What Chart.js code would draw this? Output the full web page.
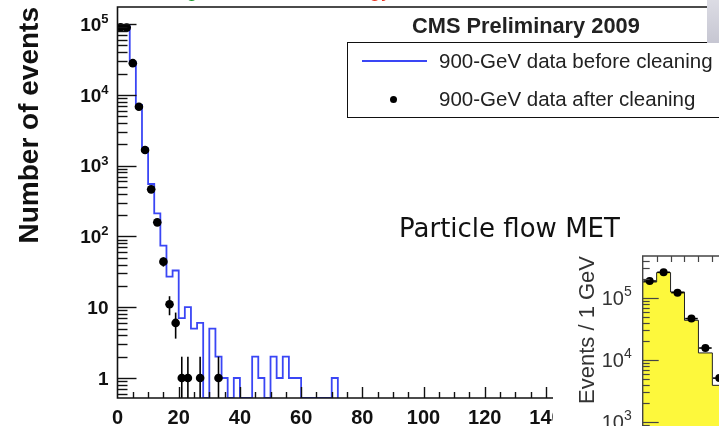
<!DOCTYPE html>
<html>
<head>
<meta charset="utf-8">
<script src="https://cdn.jsdelivr.net/npm/chart.js@4.4.0/dist/chart.umd.min.js"></script>
<style>
  html, body { margin: 0; padding: 0; width: 719px; height: 426px; overflow: hidden; background: #fff; }
  .abs { position: absolute; white-space: nowrap; }
  #main { position: absolute; left: 0; top: 0; }
  #insetWrap { position: absolute; left: 553px; top: 245px; width: 200px; height: 230px; background: #fff; }
  .txt { font-family: "Liberation Sans", Arial, Helvetica, sans-serif; line-height: 1; color: #222; }
  #cmsLabel { left: 412px; top: 15px; font-size: 21.8px; font-weight: bold; }
  #legendBox { left: 347px; top: 42px; width: 420px; height: 76px; border: 1.5px solid #111; box-sizing: border-box; }
  #legLine { left: 362px; top: 60px; width: 65px; height: 2px; background: #3a46f5; }
  #legDot { left: 389.5px; top: 95.5px; width: 7px; height: 7px; border-radius: 50%; background: #000; }
  #legText1 { left: 439px; top: 51px; font-size: 20.5px; }
  #legText2 { left: 439px; top: 89.3px; font-size: 20.5px; }
  #pfMet { left: 399px; top: 215px; font-family: "Comic Sans MS", "DejaVu Sans", sans-serif; font-size: 26px; line-height: 1; color: #111; }
  #grayTab { left: 707px; top: 0; width: 12px; height: 43px; background: linear-gradient(#dcdce4, #c6c6d2); }
  #topGreen { left: 186px; top: -22px; font-size: 22px; color: #1a9a2a; }
  #topRed { left: 369px; top: -22px; font-size: 22px; color: #e8321e; }
</style>
</head>
<body>
<canvas id="main" width="719" height="426"></canvas>
<div id="insetWrap"><canvas id="inset" width="200" height="230"></canvas></div>

<div class="abs txt" id="topGreen">g</div>
<div class="abs txt" id="topRed">gy</div>
<div class="abs txt" id="cmsLabel">CMS Preliminary 2009</div>
<div class="abs" id="legendBox"></div>
<div class="abs" id="legLine"></div>
<div class="abs" id="legDot"></div>
<div class="abs txt" id="legText1">900-GeV data before cleaning</div>
<div class="abs txt" id="legText2">900-GeV data after cleaning</div>
<div class="abs" id="pfMet">Particle flow MET</div>
<div class="abs" id="grayTab"></div>

<script>
// main plot: MET distribution, 2 GeV bins
const beforeBinLow = [0, 2, 4, 6, 8, 10, 12, 14, 16, 18, 20, 22, 24, 26, 28, 30, 32, 34,
  36, 38, 40, 42, 44, 46, 48, 50, 52, 54, 56, 58, 60, 62, 64, 66, 68, 70];
const beforeLastEdge = 72;
const beforeCounts = [95000, 93000, 29000, 7200, 1750, 550, 212, 74, 27, 33, 7, 10, 5, 6, 0, 5, 2, 1,
  0, 1, 0, 0, 2, 1, 0, 2, 1, 2, 1, 1, 0, 0, 0, 0, 0, 1];

const afterX = [1, 3, 5, 7, 9, 11, 13, 15, 17, 19, 21, 23, 27, 33];
const afterCounts = [90000, 89000, 28000, 6800, 1660, 462, 158, 44, 11, 6, 1, 1, 1, 1];
const afterErr = [300, 298, 167, 82, 41, 21.5, 12.6, 6.6, 3.3, 2.4, 1, 1, 1, 1];

const xTickValues = [0, 20, 40, 60, 80, 100, 120, 140];
const yTickValues = [1, 10, 100, 1000, 10000, 100000];
const yTickBase = ["1", "10", "10", "10", "10", "10"];
const yTickExp = ["", "", "2", "3", "4", "5"];

// inset: particle flow MET, 1 GeV bins
const insetBinLow = [0, 1, 2, 3, 4, 5];
const insetLastEdge = 6;
const insetCounts = [181000, 257000, 125000, 43700, 13000, 3900];
const insetX = [0.5, 1.5, 2.5, 3.5, 4.5, 5.5];
const insetPoints = [188000, 260000, 122000, 46500, 15600, 5100];
const insetTickValues = [1000, 10000, 100000];
const insetTickBase = ["10", "10", "10"];
const insetTickExp = ["3", "4", "5"];

const FONT = '"Liberation Sans", Arial, Helvetica, sans-serif';
const Y_MIN = 0.522;
const Y_MAX = 174000;
const INSET_MIN = 200;
const INSET_MAX = 476000;

function stepPoints(lows, lastEdge, counts, floor) {
  const pts = lows.map((x, i) => ({ x: x, y: counts[i] > 0 ? counts[i] : floor }));
  pts.push({ x: lastEdge, y: floor });
  return pts;
}

function drawLogTicks(ctx, scale, x0, majorLen, minorLen) {
  const lo = Math.floor(Math.log10(scale.min));
  const hi = Math.ceil(Math.log10(scale.max));
  for (let d = lo; d <= hi; d++) {
    for (let k = 1; k <= 9; k++) {
      const v = k * Math.pow(10, d);
      if (v <= scale.min || v >= scale.max) continue;
      const py = Math.round(scale.getPixelForValue(v)) + 0.5;
      ctx.beginPath();
      ctx.moveTo(x0, py);
      ctx.lineTo(x0 + (k === 1 ? majorLen : minorLen), py);
      ctx.stroke();
    }
  }
}

// ROOT style "10^n" labels, exponent raised
function drawPowerLabels(ctx, scale, values, bases, exps, xRight, sty) {
  ctx.save();
  ctx.fillStyle = sty.color;
  ctx.textAlign = "right";
  ctx.textBaseline = "alphabetic";
  values.forEach((v, i) => {
    const py = scale.getPixelForValue(v);
    let xr = xRight;
    if (exps[i]) {
      ctx.font = sty.weight + " " + sty.expSize + "px " + FONT;
      ctx.fillText(exps[i], xr, py + sty.expDrop);
      xr -= ctx.measureText(exps[i]).width;
    }
    ctx.font = sty.weight + " " + sty.size + "px " + FONT;
    ctx.fillText(bases[i], xr, py + sty.size * 0.36);
  });
  ctx.restore();
}

// keep the chart area where the picture has it
function fixWidth(w) {
  return (s) => { s.width = w; s.paddingTop = 0; s.paddingBottom = 0; };
}
function fixHeight(h) {
  return (s) => { s.height = h; s.paddingLeft = 0; s.paddingRight = 0; };
}

const mainFrame = {
  id: "mainFrame",
  afterDatasetsDraw(chart) {
    const { ctx, chartArea: a, scales: { x, y } } = chart;
    ctx.save();
    ctx.strokeStyle = "#000";
    ctx.lineWidth = 1.6;
    // error bars
    afterX.forEach((xv, i) => {
      const px = x.getPixelForValue(xv);
      const lo = afterCounts[i] - afterErr[i];
      const yLo = lo > Y_MIN ? y.getPixelForValue(lo) : a.bottom;
      const yHi = y.getPixelForValue(afterCounts[i] + afterErr[i]);
      ctx.beginPath();
      ctx.moveTo(px, yLo);
      ctx.lineTo(px, yHi);
      ctx.stroke();
    });
    ctx.strokeStyle = "#111";
    ctx.lineWidth = 1.4;
    drawLogTicks(ctx, y, a.left, 19, 10);
    for (let v = 5; v < x.max; v += 5) {
      const px = Math.round(x.getPixelForValue(v)) + 0.5;
      ctx.beginPath();
      ctx.moveTo(px, a.bottom);
      ctx.lineTo(px, a.bottom - (v % 20 === 0 ? 11 : 6));
      ctx.stroke();
    }
    // frame
    ctx.lineWidth = 1.6;
    ctx.beginPath();
    ctx.moveTo(707, a.top);
    ctx.lineTo(a.left, a.top);
    ctx.lineTo(a.left, a.bottom);
    ctx.lineTo(a.right, a.bottom);
    ctx.stroke();
    ctx.restore();
    drawPowerLabels(ctx, y, yTickValues, yTickBase, yTickExp, a.left - 9,
      { color: "#111", weight: "bold", size: 19, expSize: 13, expDrop: -1 });
  }
};

new Chart(document.getElementById("main"), {
  type: "line",
  data: {
    datasets: [
      {
        label: "900-GeV data after cleaning",
        data: afterX.map((xv, i) => ({ x: xv, y: afterCounts[i] })),
        showLine: false,
        pointRadius: 4.3,
        pointBackgroundColor: "#000",
        pointBorderWidth: 0,
      },
      {
        label: "900-GeV data before cleaning",
        data: stepPoints(beforeBinLow, beforeLastEdge, beforeCounts, Y_MIN),
        stepped: true,
        borderColor: "#3a46f5",
        borderWidth: 1.8,
        pointRadius: 0,
        fill: false,
      },
    ],
  },
  options: {
    responsive: false,
    animation: false,
    layout: { padding: { top: 7, right: 166, bottom: 0, left: 0 } },
    plugins: { legend: { display: false }, tooltip: { enabled: false } },
    scales: {
      x: {
        type: "linear",
        min: 0,
        max: 142.3,
        grid: { display: false, drawTicks: false },
        border: { display: false },
        afterBuildTicks: (s) => { s.ticks = xTickValues.map((v) => ({ value: v })); },
        afterFit: fixHeight(28),
        ticks: {
          autoSkip: false,
          maxRotation: 0,
          padding: 8,
          color: "#111",
          font: { family: FONT, size: 20, weight: "bold" },
        },
      },
      y: {
        type: "logarithmic",
        min: Y_MIN,
        max: Y_MAX,
        grid: { display: false, drawTicks: false },
        border: { display: false },
        afterBuildTicks: (s) => { s.ticks = yTickValues.map((v) => ({ value: v })); },
        afterFit: fixWidth(117.5),
        ticks: { display: false },
        title: {
          display: true,
          text: "Number of events",
          align: "end",
          color: "#111",
          font: { family: FONT, size: 28, weight: "bold" },
          padding: { top: 13, bottom: 0 },
        },
      },
    },
  },
  plugins: [mainFrame],
});

const insetFrame = {
  id: "insetFrame",
  afterDatasetsDraw(chart) {
    const { ctx, chartArea: a, scales: { x, y } } = chart;
    ctx.save();
    ctx.strokeStyle = "#000";
    ctx.lineWidth = 1.6;
    insetX.forEach((xv, i) => {
      const py = y.getPixelForValue(insetPoints[i]);
      ctx.beginPath();
      ctx.moveTo(x.getPixelForValue(xv - 0.45), py);
      ctx.lineTo(x.getPixelForValue(xv + 0.45), py);
      ctx.stroke();
    });
    ctx.strokeStyle = "#444";
    ctx.lineWidth = 1.2;
    drawLogTicks(ctx, y, a.left, 16, 7);
    for (let v = 1; v < x.max; v += 1) {
      const px = Math.round(x.getPixelForValue(v)) + 0.5;
      ctx.beginPath();
      ctx.moveTo(px, a.top);
      ctx.lineTo(px, a.top + 6);
      ctx.stroke();
    }
    ctx.lineWidth = 1.4;
    ctx.beginPath();
    ctx.moveTo(a.right + 20, a.top);
    ctx.lineTo(a.left, a.top);
    ctx.lineTo(a.left, a.bottom);
    ctx.stroke();
    ctx.restore();
    drawPowerLabels(ctx, y, insetTickValues, insetTickBase, insetTickExp, a.left - 11,
      { color: "#333", weight: "normal", size: 20, expSize: 14, expDrop: -2 });
  }
};

new Chart(document.getElementById("inset"), {
  type: "line",
  data: {
    datasets: [
      {
        label: "data",
        data: insetX.map((xv, i) => ({ x: xv, y: insetPoints[i] })),
        showLine: false,
        pointRadius: 4,
        pointBackgroundColor: "#000",
        pointBorderWidth: 0,
      },
      {
        label: "simulation",
        data: stepPoints(insetBinLow, insetLastEdge, insetCounts, INSET_MIN),
        stepped: true,
        borderColor: "#222",
        borderWidth: 1,
        backgroundColor: "#fdf83c",
        fill: "start",
        pointRadius: 0,
      },
    ],
  },
  options: {
    responsive: false,
    animation: false,
    layout: { padding: { top: 11, right: 10, bottom: 9.7, left: 0 } },
    plugins: { legend: { display: false }, tooltip: { enabled: false } },
    scales: {
      x: { type: "linear", min: 0, max: 7.2, display: false },
      y: {
        type: "logarithmic",
        min: INSET_MIN,
        max: INSET_MAX,
        grid: { display: false, drawTicks: false },
        border: { display: false },
        afterBuildTicks: (s) => { s.ticks = insetTickValues.map((v) => ({ value: v })); },
        afterFit: fixWidth(89.7),
        ticks: { display: false },
        title: {
          display: true,
          text: "Events / 1 GeV",
          align: "end",
          color: "#333",
          font: { family: FONT, size: 22 },
          padding: { top: 22, bottom: 0 },
        },
      },
    },
  },
  plugins: [insetFrame],
});
</script>
</body>
</html>
